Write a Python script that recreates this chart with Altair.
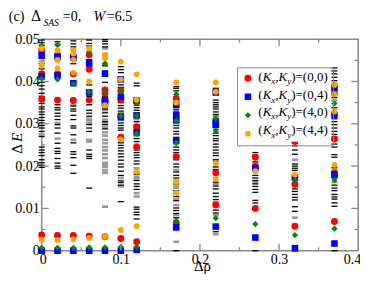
import altair as alt
import pandas as pd

SERIF = "Liberation Serif"
FRAME = "#8a8a8a"

# ---------------- data ----------------
rho = [0.0, 0.02, 0.04, 0.06, 0.08, 0.10, 0.12, 0.17, 0.22, 0.27, 0.32, 0.37]

series_labels = ["(Kx,Ky) =(0,0)", "(Kx,Ky)=(0,4)", "(Kx,Ky)=(4,0)", "(Kx,Ky)=(4,4)"]
legend_tails = [" =(0,0)", "=(0,4)", "=(4,0)", "=(4,4)"]
series_colors = ["#ff0000", "#0000ff", "#008c00", "#ffa500"]
series_shapes = ["circle", "square", "diamond", "circle"]
series_sizes = [48, 34, 40, 42]

x_tick_labels = [0, 0.1, 0.2, 0.3, 0.4]
y_tick_labels = [0, 0.01, 0.02, 0.03, 0.04, 0.05]
x_major = [0.1, 0.2, 0.3]
x_minor = [0.05, 0.15, 0.25, 0.35]
y_major = [0.01, 0.02, 0.03, 0.04]
y_minor = [0.005, 0.015, 0.025, 0.035, 0.045]

red_dE = [
    [0.0474, 0.0418, 0.0358, 0.0037],
    [0.0462, 0.0418, 0.0356, 0.0036],
    [0.0459, 0.0418, 0.0355, 0.0036],
    [0.0463, 0.0429, 0.0356, 0.0034],
    [0.0380, 0.0372, 0.0357, 0.0033],
    [0.0378, 0.0357, 0.0317, 0.0268, 0.0029],
    [0.0352, 0.0293, 0.0246, 0.0021],
    [0.0360, 0.0222, 0.0065],
    [0.0184, 0.0108],
    [0.0221, 0.0199, 0.0100],
    [0.0258, 0.0157, 0.0058],
    [0.0372, 0.0264, 0.0183, 0.0069],
]
blue_dE = [
    [0.0462, 0.0412, 0.0],
    [0.0458, 0.0414, 0.0],
    [0.0456, 0.0396, 0.0],
    [0.0443, 0.0374, 0.0],
    [0.0419, 0.0356, 0.0349, 0.0],
    [0.0405, 0.0364, 0.0315, 0.0],
    [0.0355, 0.0320, 0.0280, 0.0002],
    [0.0345, 0.0320, 0.0309, 0.0260, 0.0055],
    [0.0374, 0.0305, 0.0298, 0.0057],
    [0.0195, 0.0031],
    [0.0173, 0.0006],
    [0.0385, 0.0321, 0.0180, 0.0017],
]
green_dE = [
    [0.0484, 0.0407, 0.0007],
    [0.0486, 0.0405, 0.0007],
    [0.0476, 0.0394, 0.0007],
    [0.0470, 0.0376, 0.0008],
    [0.0443, 0.0376, 0.0008],
    [0.0376, 0.0318, 0.0009],
    [0.0352, 0.0320, 0.0277, 0.0009],
    [0.0370, 0.0307, 0.0255, 0.0071],
    [0.0373, 0.0313, 0.0284, 0.0077],
    [0.0063],
    [0.0167, 0.0037],
    [0.0348, 0.0167, 0.0052],
]
orange_dE = [
    [0.0478, 0.0447, 0.0437, 0.0026],
    [0.0474, 0.0451, 0.0431, 0.0025],
    [0.0474, 0.0466, 0.0451, 0.0421, 0.0027],
    [0.0478, 0.0400, 0.0030],
    [0.0463, 0.0455, 0.0344, 0.0033],
    [0.0447, 0.0405, 0.0263, 0.0049],
    [0.0417, 0.0357, 0.0187, 0.0058],
    [0.0398, 0.0350, 0.0163, 0.0137],
    [0.0398, 0.0376, 0.0207, 0.0170],
    [0.0188],
    [0.0180],
    [0.0392, 0.0370, 0.0329, 0.0203],
]
black_dE = [
    [0.0498, 0.0492, 0.0486, 0.0478, 0.0468, 0.0455, 0.0442, 0.0430, 0.0422, 0.0412, 0.0398, 0.0390,
     0.0382, 0.0372, 0.0365, 0.0348, 0.0340, 0.0335, 0.0328, 0.0322, 0.0315, 0.0308, 0.0302, 0.0296,
     0.0290, 0.0282, 0.0270, 0.0245, 0.0238, 0.0232, 0.0225, 0.0215, 0.0208, 0.0202, 0.0197],
    [0.0494, 0.0488, 0.0345, 0.0338, 0.0333, 0.0325, 0.0318, 0.0310, 0.0298, 0.0290, 0.0278, 0.0254,
     0.0242, 0.0235, 0.0230, 0.0218, 0.0207, 0.0200, 0.0195],
    [0.0496, 0.0489, 0.0482, 0.0442, 0.0342, 0.0335, 0.0330, 0.0320, 0.0310, 0.0295, 0.0290, 0.0274,
     0.0255, 0.0234, 0.0228, 0.0220, 0.0202, 0.0183],
    [0.0498, 0.0490, 0.0484, 0.0452, 0.0435, 0.0392, 0.0365, 0.0345, 0.0332, 0.0325, 0.0318, 0.0298,
     0.0290, 0.0282, 0.0238, 0.0228, 0.0223, 0.0218, 0.0148],
    [0.0499, 0.0495, 0.0489, 0.0482, 0.0437, 0.0412, 0.0398, 0.0365, 0.0350, 0.0335, 0.0326, 0.0318,
     0.0305, 0.0298, 0.0288],
    [0.0435, 0.0428, 0.0421, 0.0392, 0.0386, 0.0350, 0.0343, 0.0337, 0.0330, 0.0325, 0.0302, 0.0296,
     0.0290, 0.0285, 0.0255, 0.0249, 0.0243, 0.0236, 0.0229, 0.0222, 0.0214, 0.0205, 0.0198, 0.0188,
     0.0178, 0.0165, 0.0161, 0.0155, 0.0116],
    [0.0396, 0.0390, 0.0344, 0.0338, 0.0332, 0.0325, 0.0318, 0.0305, 0.0298, 0.0282, 0.0265, 0.0258,
     0.0238, 0.0232, 0.0226, 0.0220, 0.0212, 0.0205, 0.0186, 0.0181, 0.0166, 0.0158, 0.0152, 0.0145,
     0.0103, 0.0098, 0.0091, 0.0085, 0.0075],
    [0.0388, 0.0384, 0.0378, 0.0345, 0.0340, 0.0333, 0.0328, 0.0302, 0.0296, 0.0290, 0.0282, 0.0276,
     0.0268, 0.0262, 0.0245, 0.0238, 0.0232, 0.0226, 0.0215, 0.0205, 0.0198, 0.0186, 0.0178, 0.0172,
     0.0158, 0.0142, 0.0128, 0.0118, 0.0101, 0.0095, 0.0088, 0.0078, 0.0062, 0.0],
    [0.0384, 0.0380, 0.0356, 0.0350, 0.0345, 0.0340, 0.0335, 0.0328, 0.0322, 0.0292, 0.0278, 0.0272,
     0.0265, 0.0260, 0.0252, 0.0245, 0.0238, 0.0231, 0.0225, 0.0215, 0.0198, 0.0192, 0.0162, 0.0153,
     0.0146, 0.0136, 0.0128, 0.0121, 0.0096, 0.0089, 0.0045],
    [0.0232, 0.0226, 0.0210, 0.0195, 0.0178, 0.0172, 0.0166, 0.0158, 0.0152, 0.0145, 0.0138, 0.0119,
     0.0113, 0.0],
    [0.0254, 0.0248, 0.0238, 0.0228, 0.0205, 0.0200, 0.0195, 0.0190, 0.0146, 0.0140, 0.0133, 0.0126,
     0.0120, 0.0104, 0.0093, 0.0],
    [0.0432, 0.0425, 0.0418, 0.0410, 0.0402, 0.0382, 0.0362, 0.0338, 0.0312, 0.0305, 0.0298, 0.0290,
     0.0282, 0.0275, 0.0252, 0.0245, 0.0227, 0.0221, 0.0196, 0.0178, 0.0172, 0.0155, 0.0148, 0.0142,
     0.0133, 0.0127, 0.0122, 0.0113, 0.0105, 0.0],
]
gray_dE = [
    [0.0462, 0.0275],
    [0.0302, 0.0265],
    [0.0345, 0.0262],
    [0.0312, 0.0308, 0.0302, 0.0262, 0.0258],
    [0.0478, 0.0465, 0.0440, 0.0340, 0.0332, 0.0310, 0.0301, 0.0292, 0.0280, 0.0272, 0.0262, 0.0254,
     0.0245, 0.0237, 0.0228, 0.0219, 0.0208, 0.0203, 0.0198, 0.0190, 0.0184, 0.0104],
    [0.0318, 0.0268, 0.0258, 0.0172, 0.0152],
    [0.0311, 0.0290, 0.0271, 0.0248, 0.0244, 0.0195, 0.0175, 0.0171, 0.0136, 0.0128],
    [0.0338, 0.0322, 0.0252, 0.0191, 0.0165, 0.0152, 0.0149, 0.0136, 0.0122, 0.0108, 0.0084, 0.0021],
    [0.0318, 0.0296, 0.0288, 0.0212, 0.0158, 0.0115, 0.0084, 0.0039],
    [0.0205, 0.0162],
    [0.0215, 0.0152, 0.0078],
    [0.0395, 0.0372, 0.0355, 0.0268, 0.0262, 0.0190, 0.0162],
]


def long_table(per_col, name):
    return [{"x": r, "y": v, "series": name} for r, vals in zip(rho, per_col) for v in vals]


pts = pd.DataFrame(
    long_table(red_dE, series_labels[0]) + long_table(blue_dE, series_labels[1])
    + long_table(green_dE, series_labels[2]) + long_table(orange_dE, series_labels[3])
)
pts["order"] = range(len(pts))
black_df = pd.DataFrame(long_table(black_dE, "black"))
gray_df = pd.DataFrame(long_table(gray_dE, "gray"))
dummy = pd.DataFrame({"d": [0]})

# ---------------- layout ----------------
W, H = 316.5, 211.5
OX, OY = 41.7, 39.2          # page position of the plot origin (8px page margin + padding)

xs = alt.Scale(domain=[0, 0.4], nice=False, zero=False)
ys = alt.Scale(domain=[0, 0.05], nice=False, zero=False)
common_axis = dict(format="~g", title=None, grid=False, ticks=False, domain=False, tickSize=0,
                   labelFont=SERIF, labelFontSize=14, labelColor="black", labelOverlap=False)
x_axis = alt.Axis(values=x_tick_labels, labelPadding=2, labelFlush=True, labelFlushOffset=2.5,
                  **common_axis)
y_axis = alt.Axis(values=y_tick_labels, labelPadding=2.5, labelFlush=False, **common_axis)


def X():
    return alt.X("x:Q", scale=xs, axis=x_axis)


def Y():
    return alt.Y("y:Q", scale=ys, axis=y_axis)


gray_layer = alt.Chart(gray_df).mark_point(
    shape="stroke", filled=False, stroke="#9a9a9a", strokeWidth=2.6, size=36, opacity=1
).encode(x=X(), y=Y())
black_layer = alt.Chart(black_df).mark_point(
    shape="stroke", filled=False, stroke="black", strokeWidth=1.3, size=36, opacity=1
).encode(x=X(), y=Y())

legend = alt.Legend(title=None, orient="none", legendX=237 - OX, legendY=67.3 - OY, padding=5,
                    rowPadding=5.5, labelFont=SERIF, labelFontSize=11.9, labelOpacity=0,
                    labelLimit=70, labelOffset=4, strokeColor=FRAME, symbolStrokeWidth=0,
                    symbolOpacity=1)
points = alt.Chart(pts).mark_point(filled=True, opacity=1, strokeWidth=0).encode(
    x=X(), y=Y(),
    color=alt.Color("series:N", scale=alt.Scale(domain=series_labels, range=series_colors), legend=legend),
    shape=alt.Shape("series:N", scale=alt.Scale(domain=series_labels, range=series_shapes), legend=legend),
    size=alt.Size("series:N", scale=alt.Scale(domain=series_labels, range=series_sizes), legend=legend),
    order=alt.Order("order:Q"),
)

# inward ticks on all four sides
tick_layers = []
for vals, ln in ((x_major, 7), (x_minor, 3.5)):
    df = pd.DataFrame({"x": vals})
    for y0, y1 in ((H, H - ln), (0, ln)):
        tick_layers.append(alt.Chart(df).mark_rule(color=FRAME, strokeWidth=1.3).encode(
            x=X(), y=alt.value(y0), y2=alt.value(y1)))
for vals, ln in ((y_major, 7), (y_minor, 3.5)):
    df = pd.DataFrame({"y": vals})
    for x0, x1 in ((0, ln), (W, W - ln)):
        tick_layers.append(alt.Chart(df).mark_rule(color=FRAME, strokeWidth=1.3).encode(
            y=Y(), x=alt.value(x0), x2=alt.value(x1)))

legend_bg = alt.Chart(dummy).mark_rect(fill="white").encode(
    x=alt.value(237 - OX), x2=alt.value(330.7 - OX), y=alt.value(67.3 - OY), y2=alt.value(141.7 - OY))


def txt(s, px, py, size=14, italic=False, angle=0, align="left", font=SERIF):
    return alt.Chart(dummy).mark_text(
        font=font, fontSize=size, fontStyle="italic" if italic else "normal", align=align,
        baseline="alphabetic", angle=angle, color="black"
    ).encode(x=alt.value(px - OX), y=alt.value(py - OY), text=alt.value(s))


# approximate advance widths (em) of Times-like glyphs
EM = {"(": .333, ")": .333, ",": .25, "=": .564, " ": .25, "K": .667, "x": .444, "y": .444}


def adv(s, size):
    return sum(EM.get(c, .5) for c in s) * size


TX, TY = 8.8, 20.5   # title start / baseline (kept inside the page margin)
text_layers = [
    # title
    txt("(c)", TX, TY, 14),
    txt("\u0394", TX + 27.3, TY, 14, align="center", font="DejaVu Serif"),
    txt("SAS", TX + 34.6, TY + 5.7, 9.5, italic=True),
    txt("=0,", TX + 54.0, TY, 14),
    txt("W", TX + 84.6, TY, 14, italic=True),
    txt("=6.5", TX + 98.0, TY, 14),
    # axis titles
    txt("\u0394", 21.5, 149.0, 15, angle=270, align="center"),
    txt("E", 21.5, 137.5, 15, italic=True, angle=270, align="center"),
    txt("\u0394\u03c1", 202.5, 271.0, 15, align="center"),
]

# legend labels (K italic, x / y subscripts)
row_baselines = [80.7, 99.0, 115.7, 134.0]
LS, SS = 13, 9
for tail, base in zip(legend_tails, row_baselines):
    parts = [("(", False, LS, 0), ("K", True, LS, 0), ("x", True, SS, 3.5), (",", False, LS, 0),
             ("K", True, LS, 0), ("y", True, SS, 3.5), (")", False, LS, 0), (tail, False, LS, 0)]
    px = 258.3
    for s, it, sz, dy in parts:
        text_layers.append(txt(s, px, base + dy, sz, italic=it))
        px += adv(s, sz)

chart = alt.layer(
    gray_layer, black_layer, points, *tick_layers, legend_bg, *text_layers
).properties(
    width=W, height=H,
    padding={"left": OX - 8, "top": OY - 8, "right": 352 - (OX - 8) - W,
             "bottom": 266 - (OY - 8) - H},
    autosize=alt.AutoSizeParams(type="none"),
    background="white",
).configure_view(stroke=FRAME, strokeWidth=1.5)

chart.save("out.html", embed_options={"renderer": "svg", "actions": False})
